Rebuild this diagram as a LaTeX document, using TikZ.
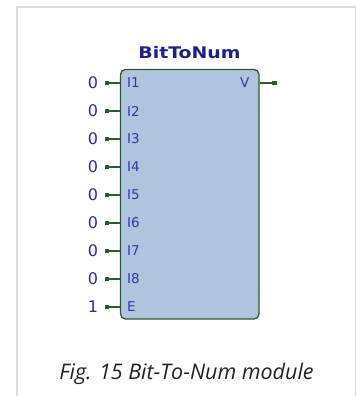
\documentclass[tikz,border=0pt]{standalone}
\usepackage{fontspec}
\setmainfont{DejaVu Sans}
\newfontfamily\capfont{Open Sans}
\definecolor{blockfill}{HTML}{B0C4DE}
\definecolor{wiregreen}{HTML}{2F5A2F}
\definecolor{numblue}{HTML}{2E2A9C}
\definecolor{lblblue}{HTML}{3A32A8}
\definecolor{titleblue}{HTML}{1F1F8C}
\definecolor{capgray}{HTML}{222222}
\definecolor{framegray}{HTML}{DCDCDC}
\begin{document}
\begin{tikzpicture}[x=1pt,y=-1pt,
  pinval/.style={text=numblue,font=\fontsize{16}{16}\selectfont,inner sep=0pt},
  pinlbl/.style={text=lblblue,font=\fontsize{13.5}{14}\selectfont,inner sep=0pt,anchor=west},
  wire/.style={draw=wiregreen,line width=1.2pt},
  pinsq/.style={fill=wiregreen,rectangle,minimum size=4.2pt,inner sep=0pt},
  block/.style={draw=wiregreen,fill=blockfill,line width=1.3pt,rounded corners=5pt,
    minimum width=138.5pt,minimum height=249.5pt,inner sep=0pt}]
\useasboundingbox (0,0) rectangle (357,396);
% frame
\fill[framegray] (15.8,5.8) rectangle (18.2,396);
\fill[framegray] (15.8,5.8) rectangle (356,8.2);
\fill[framegray] (354.6,5.8) rectangle (356,396);
% block
\node[block] (blk) at (189.75,194.25) {};
\node[text=titleblue,font=\bfseries\fontsize{16}{16}\selectfont,anchor=base,inner sep=0pt]
  (title) at (189.5,59) {\scalebox{1.18}[1]{BitToNum}};
% inputs
\foreach \lab/\val [count=\i] in {I1/0,I2/0,I3/0,I4/0,I5/0,I6/0,I7/0,I8/0,E/1}{
  \pgfmathsetmacro{\yy}{83+28*(\i-1)}
  \node[pinsq] (sq\i) at (106.7,\yy) {};
  \node[pinval] (v\i) at (93,\yy) {\val};
  \node[pinlbl] (l\i) at (127,\yy) {\lab};
  \draw[wire] (sq\i.center) -- (blk.west |- sq\i);
}
% output
\node[pinsq] (sqo) at (274.5,83) {};
\node[pinlbl,anchor=east] (vl) at (249.5,83) {V};
\draw[wire] (blk.east |- sqo) -- (sqo.center);
% caption
\node[text=capgray,font=\capfont\itshape\fontsize{21.5}{21.5}\selectfont,anchor=base,inner sep=0pt]
  (cap) at (186.5,379) {Fig. 15 Bit-To-Num module};
\end{tikzpicture}
\end{document}
